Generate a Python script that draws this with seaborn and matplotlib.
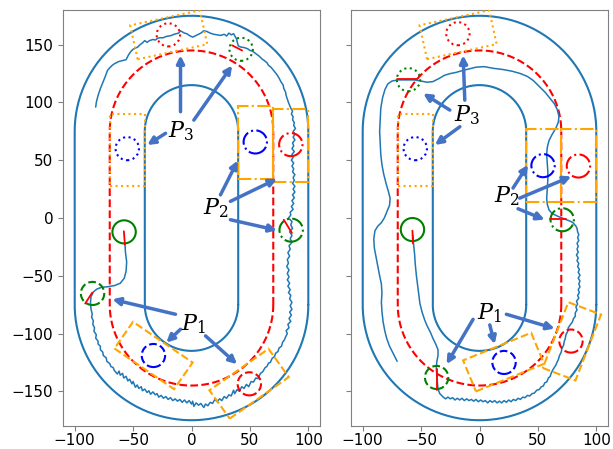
import numpy as np
import pandas as pd
import matplotlib
matplotlib.use("Agg")
import matplotlib.pyplot as plt
from matplotlib.patches import Rectangle, Circle
import seaborn as sns

# ---------------- data ----------------
# track: half widths of outer boundary, centre line, inner boundary; straight half length
track_half_widths = [100, 70, 40]
track_styles = ["outer", "centre", "inner"]
straight_half_len = 75

# trajectory of the left panel as (x, y) points
left_traj = [
    (-57, -22), (-56.5, -30), (-55.5, -38), (-56, -46), (-57.5, -52), (-61, -56.5), (-66, -58.5),
    (-72, -59.5), (-77, -60), (-81, -61.5), (-84, -64), (-86, -68), (-86.5, -73), (-86, -79),
    (-85, -83), (-85.5, -86), (-84, -89), (-84.5, -92), (-83, -95), (-83.5, -98), (-81.5, -101),
    (-82, -104), (-80, -106.5), (-80, -109), (-78, -111), (-78, -114), (-76, -116), (-75.5, -119),
    (-73, -121), (-72.5, -124), (-70, -126), (-69, -128.5), (-67, -129.5), (-66, -132), (-63.5, -135),
    (-62, -132.5), (-61, -136), (-59, -134.5), (-58, -138.5), (-56, -137), (-54.5, -141), (-53, -139.5),
    (-51, -143.5), (-50, -141.5), (-48, -146.5), (-46.5, -144.5), (-45, -147.5), (-43, -146),
    (-42, -149.5), (-40, -148), (-38, -151), (-36.5, -149.5), (-35, -152.5), (-33, -150.5),
    (-31, -153), (-29.5, -152), (-28, -155), (-26, -153.5), (-24, -156), (-22, -154.5), (-20, -157),
    (-18, -155.5), (-16, -158), (-14, -156.5), (-12, -158.5), (-10, -157), (-8, -159.5), (-6, -157.5),
    (-4, -160), (-2, -158), (0, -161), (1, -158.5), (2, -163), (4, -160), (6, -162), (8, -160.5),
    (10.5, -164), (12, -161), (14, -162.5), (16, -159.5), (18, -160.5), (20, -157), (22, -159),
    (24, -156.5), (26, -158), (28, -154.5), (30, -156), (32, -153), (34, -154), (36, -149), (37, -152),
    (39, -148.5), (41, -150), (43, -146), (45, -147.5), (47, -144), (49, -146), (51, -141.5), (53, -142),
    (55, -138.5), (57, -139), (59, -134.5), (61, -133), (63, -129.5), (64.5, -128.5), (66, -125.5),
    (67.5, -125), (69, -121.5), (71, -120), (72, -117), (74, -115.5), (75, -112.5), (77, -111),
    (78, -107.5), (79.5, -105.5), (80.5, -103), (82, -100), (81, -97.5), (83.5, -95), (82.5, -92),
    (85, -89.5), (83.5, -87), (85.5, -84), (84, -81.5), (86, -79), (84.5, -76), (86, -73), (84, -70),
    (85, -67), (83, -64.5), (84.5, -62), (82.5, -59), (84, -56.5), (82, -53.5), (83.5, -51), (82, -48),
    (83.5, -45), (81.5, -42), (83, -39), (82, -36), (84, -33), (82.5, -30), (84.5, -27), (83.5, -24),
    (86, -21), (84.5, -18), (86, -15), (84, -12), (86.5, -9), (85, -6), (86, -3), (83, 0), (85, 2.5),
    (84.5, 5), (87, 7.5), (85.5, 10), (87.5, 12.5), (86, 15), (88, 17.5), (86.5, 20), (88.5, 22.5),
    (87, 25), (88.5, 27.5), (86.5, 30), (88, 32.5), (87, 35), (88.5, 37.5), (86.5, 40), (87.5, 42.5),
    (86, 45), (87.5, 47.5), (85.5, 50), (87, 52.5), (86, 55), (88, 57.5), (86, 60), (87.5, 62.5),
    (86.5, 65), (88.5, 67.5), (87, 70), (88.5, 72.5), (87, 75), (89, 77.5), (87.5, 80), (88, 82.5),
    (86.5, 85), (87, 87.5), (85.5, 90), (86.5, 92.5), (85, 95), (84, 97.5), (83, 100), (82, 103),
    (81, 106), (80.5, 109), (79, 112), (78.5, 115), (76.5, 118), (75, 121), (73.5, 123.5), (72, 125.5),
    (70, 128), (68, 130.5), (66, 132), (64.5, 134.5), (62, 136.5), (60.5, 137.5), (58, 140), (56, 141.5),
    (54, 143), (52, 144.5), (50, 145), (48, 146.5), (45, 147.5), (42, 148), (40, 149), (38.5, 155),
    (36, 159.5), (34, 158.5), (32, 160), (30, 157.5), (28, 159), (25, 158), (22, 158.5), (19, 159),
    (16, 160), (13, 161.5), (10.5, 162), (8, 160), (6, 159), (3, 157.5), (1, 156.5), (-2, 158),
    (-4, 159.5), (-6, 160), (-9.5, 162), (-11, 160), (-13, 159.5), (-15, 159), (-17, 158), (-19.5, 157.5),
    (-22, 157), (-24, 156), (-27, 156), (-29, 155.5), (-31, 154), (-33, 154.5), (-36, 153.5), (-38, 152),
    (-40, 153.5), (-42, 151.5), (-44, 150), (-46, 148), (-48, 147), (-50, 146), (-52, 144), (-54, 141),
    (-56, 137), (-58, 136.5), (-60, 136), (-62, 135.5), (-64, 134.5), (-66, 133.5), (-68, 132),
    (-70, 130), (-72, 127.5), (-74, 122), (-76, 117), (-78, 112), (-80, 106), (-81.5, 100), (-82, 96),
]

# trajectory of the right panel
right_traj = [
    (-57, -15), (-56.5, -22), (-55.5, -32), (-55, -40), (-54, -50), (-53, -58), (-52, -66), (-51, -74),
    (-49, -82), (-47, -88), (-45, -93), (-42, -99), (-39.5, -105), (-37.5, -109), (-35.5, -114),
    (-35.5, -119), (-36.5, -124), (-37, -130), (-36.5, -137), (-36, -143), (-35.5, -148), (-34, -152),
    (-31, -155), (-29, -156.5), (-27, -155), (-25, -156.5), (-23, -155.5), (-21, -157.5), (-19, -156),
    (-17, -157.5), (-15, -156), (-13, -158), (-11, -156.5), (-9, -158), (-7, -157), (-5, -158.5),
    (-3, -157), (-1, -159), (1, -157.5), (3, -159), (5, -158), (7, -160), (9, -158), (11, -159.5),
    (13, -158), (15, -160), (17, -158.5), (19, -160), (21, -158), (23, -159.5), (25, -157.5),
    (27, -159), (29, -157), (31, -158), (33, -156), (35, -157), (37, -155), (39, -155.5), (41, -153.5),
    (43, -154), (45, -152), (47, -151.5), (49, -149), (51, -148.5), (53, -146), (54.5, -145.5),
    (56, -142.5), (57.5, -142), (59, -138.5), (60.5, -137), (61.5, -134), (63, -131), (64, -129.5),
    (65.5, -127), (66.5, -124.5), (67.5, -122.5), (68.5, -119), (70, -116), (70.5, -113), (72, -110),
    (72.5, -107), (73.5, -104), (74, -101), (75.5, -98), (76, -95), (78, -92), (79.5, -90), (80.5, -87),
    (82, -85), (82, -82), (83.5, -79.5), (82.5, -77), (84, -74.5), (83, -72), (85, -69.5), (84, -67),
    (85.5, -64.5), (84.5, -62), (86, -59.5), (85, -57), (86, -54.5), (84.5, -52), (86, -49.5),
    (84.5, -47), (85.5, -44.5), (84, -42), (85, -39.5), (83.5, -37), (84.5, -34.5), (83, -32),
    (84.5, -29.5), (83.5, -27), (84.5, -24.5), (83.5, -22), (85, -19.5), (84, -17), (85, -14.5),
    (84, -12), (83.5, -9), (82.5, -7), (80, -4), (77, -2.5), (72, -0.5), (67, 1.5), (62, 4), (59.5, 7),
    (58, 12), (57.5, 17), (58, 25), (58.5, 33), (58.5, 40), (58, 48), (57.5, 55), (58, 61), (59.5, 67),
    (62, 72), (65.5, 78), (67.5, 83), (68, 88), (66.5, 94), (64, 99), (60, 104), (56, 109), (51, 114),
    (46, 119), (41, 122.5), (35, 125), (28, 127), (20, 128.5), (12, 129.5), (4, 131), (-3, 130.5),
    (-9, 129), (-15, 127.5), (-20, 126), (-25, 125), (-30, 123.5), (-35, 120.5), (-40, 118),
    (-45, 117.5), (-50, 118.5), (-56, 119.5), (-63, 119.5), (-70, 119.5), (-75, 118.5), (-78.5, 116),
    (-81, 111), (-83, 104), (-84.5, 95), (-85, 85), (-85.5, 75), (-85, 65), (-84.5, 55), (-83.5, 46),
    (-82, 38), (-80, 30), (-78, 23), (-76.5, 17), (-77, 11), (-79, 6), (-81.5, 0), (-84, -4), (-87, -7),
    (-89.5, -11), (-90.5, -18), (-90, -26), (-88.5, -34), (-87, -42), (-85.5, -50), (-84, -57),
    (-83.5, -65), (-84, -73), (-83.5, -81), (-82.5, -90), (-81, -98), (-79.5, -104), (-77, -111),
    (-74, -117), (-72, -121), (-70.5, -124),
]

# circles: centre x, centre y, colour, line style  (per panel)
left_circ_x = [-57.7, -84.7, -32.6, 49.5, 85.3, 54.6, 85.0, -55.0, -19.8, 42.5]
left_circ_y = [-12.0, -65.3, -119.0, -143.5, -10.5, 65.8, 63.5, 60.0, 158.5, 146.0]
right_circ_x = [-57.4, -36.7, 21.0, 78.3, 70.8, 54.4, 84.7, -55.0, -18.5, -60.8]
right_circ_y = [-10.0, -138.0, -125.0, -106.5, -1.5, 45.3, 45.0, 60.0, 159.5, 119.7]
circ_colors = ["green", "green", "blue", "red", "green", "blue", "red", "blue", "red", "green"]
circ_styles = ["-", "--", "--", "--", "-.", "-.", "-.", ":", ":", ":"]
circ_radius = 10

# heading segments inside green circles: x0, y0, x1, y1
left_head = [(-57.9, -11.5, -57.0, -23.0), (-91.0, -74.0, -85.0, -64.6),
             (79.0, -1.5, 86.0, -13.0), (34.8, 149.4, 43.3, 145.0)]
right_head = [(-57.4, -11.0, -57.0, -22.0), (-36.8, -131.0, -36.8, -149.0),
              (60.7, -0.5, 74.4, -0.5), (-70.4, 120.0, -53.8, 120.0)]

# orange zones: centre x, centre y, width, height, angle, line style
left_rect_cx = [-19.5, -55.0, 55.0, 85.0, -32.5, 49.3]
left_rect_cy = [158.5, 59.0, 65.0, 62.5, -119.0, -143.4]
left_rect_w = [61, 30, 30, 30, 62, 62]
left_rect_h = [30, 62, 63, 63, 28, 30]
left_rect_ang = [12.3, 0, 0, 0, -34.6, 35.4]
right_rect_cx = [-18.3, -55.0, 55.0, 85.0, 20.6, 79.1]
right_rect_cy = [158.6, 59.0, 45.4, 45.4, -124.7, -106.7]
right_rect_w = [61, 30, 30, 30, 63, 30]
right_rect_h = [30, 62, 63, 63, 29, 61]
right_rect_ang = [12.3, 0, 0, 0, 22.3, -21.0]
rect_styles = [":", ":", "-.", "-.", "--", "--"]

# labels and arrows
labels = ["$P_3$", "$P_2$", "$P_1$"]
left_label_xy = [(-9.4, 74.7), (20.5, 8.6), (2.0, -92.0)]
right_label_xy = [(-11.1, 89.0), (23.0, 18.7), (8.8, -82.0)]
left_arrows = [((-9.4, 92), (-9.4, 140.8)), ((2, 84.7), (34.8, 132)), ((-22.2, 73.3), (-37.9, 63.2)),
               ((24.8, 20), (39.6, 49.7)), ((33.3, 14.4), (73.2, 33.9)), ((33.3, -1.5), (73.2, -10.6)),
               ((-13.7, -83.3), (-67.8, -70.4)), ((-9.4, -96.3), (-21.6, -107.8)), ((12, -102), (39, -126.5))]
right_arrows = [((-12.6, 102), (-14, 140.8)), ((-25.4, 93.4), (-48.2, 107.8)), ((-16.8, 79), (-38.2, 63.2)),
                ((28.7, 25.9), (41.5, 46)), ((34.4, 17.2), (78.6, 36)), ((33, 8), (55.8, -1.5)),
                ((-5.5, -87.7), (-28.2, -126.5)), ((8.8, -92.5), (13, -109.2)), ((23, -83.3), (64.4, -95.7))]

x_ticks = [-100, -50, 0, 50, 100]
y_ticks = [-150, -100, -50, 0, 50, 100, 150]

# ---------------- style ----------------
sns.set_style("ticks")
plt.rcParams.update({
    "axes.edgecolor": "gray",
    "xtick.color": "gray",
    "ytick.color": "gray",
    "xtick.labelcolor": "black",
    "ytick.labelcolor": "black",
    "mathtext.fontset": "dejavuserif",
})
plt.rcParams["font.family"] = ["DejaVu Sans"]

TRACK_BLUE = "#1f77b4"
ARROW_BLUE = "#4472C4"

fig = plt.figure(figsize=(6.13, 4.49), dpi=100)
ax_bottom_px = 426
ax_top_px = 10
axL = fig.add_axes([63 / 613, (449 - ax_bottom_px) / 449, 257 / 613, (ax_bottom_px - ax_top_px) / 449])
axR = fig.add_axes([351 / 613, (449 - ax_bottom_px) / 449, 257 / 613, (ax_bottom_px - ax_top_px) / 449])


def stadium(hw, L):
    t1 = np.linspace(0, np.pi, 120)
    t2 = np.linspace(np.pi, 2 * np.pi, 120)
    xs = np.concatenate([[hw], hw * np.cos(t1), [-hw], hw * np.cos(t2), [hw]])
    ys = np.concatenate([[-L], L + hw * np.sin(t1), [L], -L + hw * np.sin(t2), [-L]])
    return xs, ys


def draw_panel(ax, traj, cx, cy, heads, rcx, rcy, rw, rh, rang, lab_xy, arrows, show_y):
    for hw, kind in zip(track_half_widths, track_styles):
        xs, ys = stadium(hw, straight_half_len)
        if kind == "centre":
            ax.plot(xs, ys, color="red", ls="--", lw=1.5, zorder=2)
        else:
            ax.plot(xs, ys, color=TRACK_BLUE, lw=1.5, zorder=2)
    df = pd.DataFrame(traj, columns=["x", "y"])
    sns.lineplot(data=df, x="x", y="y", sort=False, estimator=None, ax=ax,
                 color=TRACK_BLUE, lw=1.1, zorder=3)
    for x0, y0, w, h, a, s in zip(rcx, rcy, rw, rh, rang, rect_styles):
        r = Rectangle((x0 - w / 2, y0 - h / 2), w, h, angle=a, rotation_point="center",
                      fill=False, ec="orange", ls=s, lw=1.5, zorder=4)
        ax.add_patch(r)
    for x0, y0, c, s in zip(cx, cy, circ_colors, circ_styles):
        ax.add_patch(Circle((x0, y0), circ_radius, fill=False, ec=c, ls=s, lw=1.5, zorder=5))
    for x0, y0, x1, y1 in heads:
        ax.plot([x0, x1], [y0, y1], color="red", lw=1.3, zorder=6)
    for (sx, sy), (ex, ey) in arrows:
        ax.annotate("", xy=(ex, ey), xytext=(sx, sy),
                    arrowprops=dict(arrowstyle="-|>", color=ARROW_BLUE, lw=2.5,
                                    mutation_scale=11, shrinkA=0, shrinkB=0), zorder=7)
    for lab, (lx, ly) in zip(labels, lab_xy):
        ax.text(lx, ly, lab, fontsize=16, ha="center", va="center", color="black", zorder=8)
    ax.set_xlim(-110, 110)
    ax.set_ylim(-180, 180)
    ax.set_xticks(x_ticks)
    ax.set_yticks(y_ticks)
    ax.tick_params(labelsize=11, length=3.5)
    ax.tick_params(axis="x", pad=1.5)
    if not show_y:
        ax.set_yticklabels([])
    ax.set_xlabel("")
    ax.set_ylabel("")
    for sp in ax.spines.values():
        sp.set_visible(True)
        sp.set_color("gray")


draw_panel(axL, left_traj, left_circ_x, left_circ_y, left_head,
           left_rect_cx, left_rect_cy, left_rect_w, left_rect_h, left_rect_ang,
           left_label_xy, left_arrows, True)
draw_panel(axR, right_traj, right_circ_x, right_circ_y, right_head,
           right_rect_cx, right_rect_cy, right_rect_w, right_rect_h, right_rect_ang,
           right_label_xy, right_arrows, False)

fig.savefig("out.png", dpi=100)
